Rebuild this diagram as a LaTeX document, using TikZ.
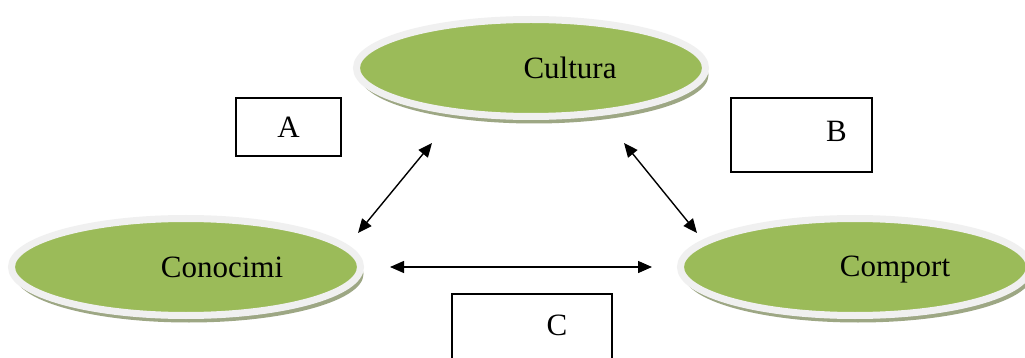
\documentclass[tikz,border=0pt]{standalone}
\usepackage{fontspec}
\setmainfont{Liberation Serif}
\usetikzlibrary{arrows.meta,shapes.geometric,shadows}
\definecolor{leaf}{HTML}{9BBB59}
\definecolor{ring}{HTML}{F0F0F0}
\definecolor{shade}{HTML}{9DA784}
\tikzset{
  bubble/.style={ellipse,fill=leaf,draw=ring,line width=7pt,minimum width=349pt,minimum height=97pt,
    drop shadow={shadow xshift=3pt,shadow yshift=-7pt,fill=shade,opacity=1}},
  tag/.style={draw,line width=1.3pt,inner sep=0pt},
  link/.style={{Triangle[length=14pt,width=12pt]}-{Triangle[length=14pt,width=12pt]},line width=1.4pt}
}
\begin{document}
\begin{tikzpicture}[x=1pt,y=-1pt,font=\fontsize{31}{36}\selectfont]
\clip (0,0) rectangle (1025,358);
\fill[white] (0,0) rectangle (1025,358);
\node[bubble,label={[xshift=39pt]center:Cultura}] (cul) at (531,68) {};
\node[bubble,label={[xshift=36pt]center:Conocimi}] (con) at (186,267) {};
\node[bubble,label={[xshift=40pt,yshift=-3pt]center:Comport}] (com) at (855,267) {};
\node[tag,minimum width=105pt,minimum height=58pt] (a) at (288.5,127) {A};
\node[tag,minimum width=141pt,minimum height=74pt,label={[xshift=35pt,yshift=4pt]center:B}] (b) at (801.5,135) {};
\node[tag,minimum width=160pt,minimum height=80pt,label={[xshift=25pt,yshift=9pt]center:C}] (c) at (532,334) {};
% ends of the links
\coordinate (cul1) at (432,143); \coordinate (con1) at (358,233);
\coordinate (cul2) at (624,143); \coordinate (com1) at (697,233);
\coordinate (con2) at (390,267); \coordinate (com2) at (652,267);
\draw[link] (cul1)--(con1);
\draw[link] (cul2)--(com1);
\draw[link] (con2)--(com2);
\end{tikzpicture}
\end{document}
